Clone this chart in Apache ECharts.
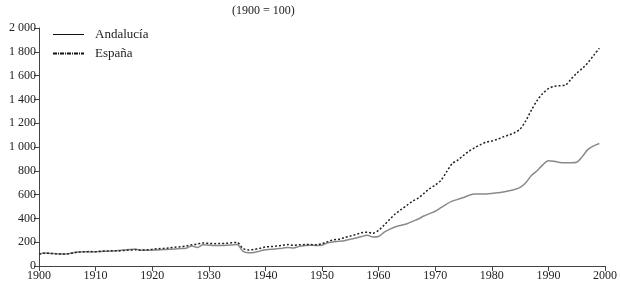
<!DOCTYPE html>
<html>
<head>
<meta charset="utf-8">
<script src="https://cdn.jsdelivr.net/npm/echarts@6/dist/echarts.min.js"></script>
<style>
  html, body { margin: 0; padding: 0; background: #fff; }
  #chart { width: 620px; height: 286px; }
</style>
</head>
<body>
<div id="chart"></div>
<script>
// indices 1900 = 100
var years = [];
for (var y = 1900; y <= 1999; y++) years.push(y);

var andalucia = [
  100, 110, 106, 103, 100, 102, 112, 118, 120, 118,
  120, 122, 124, 126, 130, 134, 138, 142, 133, 132,
  133, 135, 138, 140, 143, 146, 150, 168, 156, 178,
  175, 172, 172, 174, 176, 180, 125, 112, 114, 125,
  137, 140, 145, 150, 156, 152, 165, 172, 175, 172,
  175, 195, 203, 207, 213, 225, 235, 248, 258, 244,
  248, 285, 310, 330, 343, 355, 375, 395, 420, 440,
  460, 490, 520, 545, 560, 575, 595, 605, 605, 606,
  610, 615, 622, 632, 642, 660, 700, 760, 800, 850,
  885, 880, 870, 868, 868, 872, 920, 980, 1010, 1030
];

var espana = [
  100, 108, 106, 103, 101, 102, 110, 117, 120, 121,
  120, 124, 126, 128, 127, 130, 134, 136, 133, 136,
  140, 145, 148, 152, 158, 162, 168, 178, 185, 193,
  190, 188, 189, 190, 195, 198, 150, 135, 140, 148,
  160, 163, 168, 174, 180, 174, 178, 180, 180, 178,
  188, 205, 220, 225, 240, 252, 265, 280, 284, 276,
  300, 345, 395, 440, 475, 510, 545, 570, 610, 650,
  680, 720, 790, 860, 890, 930, 965, 995, 1020, 1040,
  1050, 1065, 1085, 1100, 1120, 1150, 1220, 1310, 1390, 1450,
  1490, 1510, 1515, 1520, 1570, 1620, 1660, 1710, 1770, 1830
];

function pairs(vals) {
  return years.map(function (yr, i) { return [yr, vals[i]]; });
}

var fontFam = '"Liberation Serif", "DejaVu Serif", serif';

var chart = echarts.init(document.getElementById('chart'));
var option = {
  animation: false,
  title: {
    text: '(1900 = 100)',
    left: 227,
    top: 0,
    textStyle: { fontFamily: fontFam, fontSize: 12, fontWeight: 'normal', color: '#222' }
  },
  legend: {
    orient: 'vertical',
    left: 47,
    top: 23,
    itemWidth: 31,
    itemHeight: 14,
    itemGap: 6,
    textStyle: { fontFamily: fontFam, fontSize: 13, color: '#222', padding: [0, 0, 0, 6] },
    data: [
      { name: 'Andalucía', itemStyle: { opacity: 0 }, lineStyle: { color: '#111', width: 1, type: 'solid' } },
      { name: 'España', itemStyle: { opacity: 0 }, lineStyle: { color: '#111', width: 2, type: [4, 1, 1, 1] } }
    ]
  },
  grid: { left: 39, right: 15, top: 28, bottom: 20 },
  xAxis: {
    type: 'value',
    min: 1900,
    max: 2000,
    interval: 10,
    splitLine: { show: false },
    axisLine: { lineStyle: { color: '#444', width: 1 } },
    axisTick: { length: 5, lineStyle: { color: '#444' } },
    axisLabel: {
      fontFamily: fontFam, fontSize: 12, color: '#222', margin: 4,
      formatter: function (v) { return String(v); }
    }
  },
  yAxis: {
    type: 'value',
    min: 0,
    max: 2000,
    interval: 200,
    splitLine: { show: false },
    axisLine: { show: true, lineStyle: { color: '#444', width: 1 } },
    axisTick: { show: true, length: 5, lineStyle: { color: '#444' } },
    axisLabel: {
      fontFamily: fontFam, fontSize: 12, color: '#222', margin: 3,
      formatter: function (v) { return v >= 1000 ? Math.floor(v / 1000) + ' ' + String(v % 1000).padStart(3, '0') : String(v); }
    }
  },
  series: [
    {
      name: 'Andalucía',
      type: 'line',
      data: pairs(andalucia),
      smooth: 0.3,
      symbol: 'none',
      lineStyle: { color: '#8a8a8a', width: 1.5 },
      itemStyle: { color: '#8a8a8a' }
    },
    {
      name: 'España',
      type: 'line',
      data: pairs(espana),
      smooth: 0.3,
      symbol: 'none',
      lineStyle: { color: '#222', width: 1.5, type: [2, 2] },
      itemStyle: { color: '#222' }
    }
  ]
};
chart.setOption(option);
</script>
</body>
</html>
